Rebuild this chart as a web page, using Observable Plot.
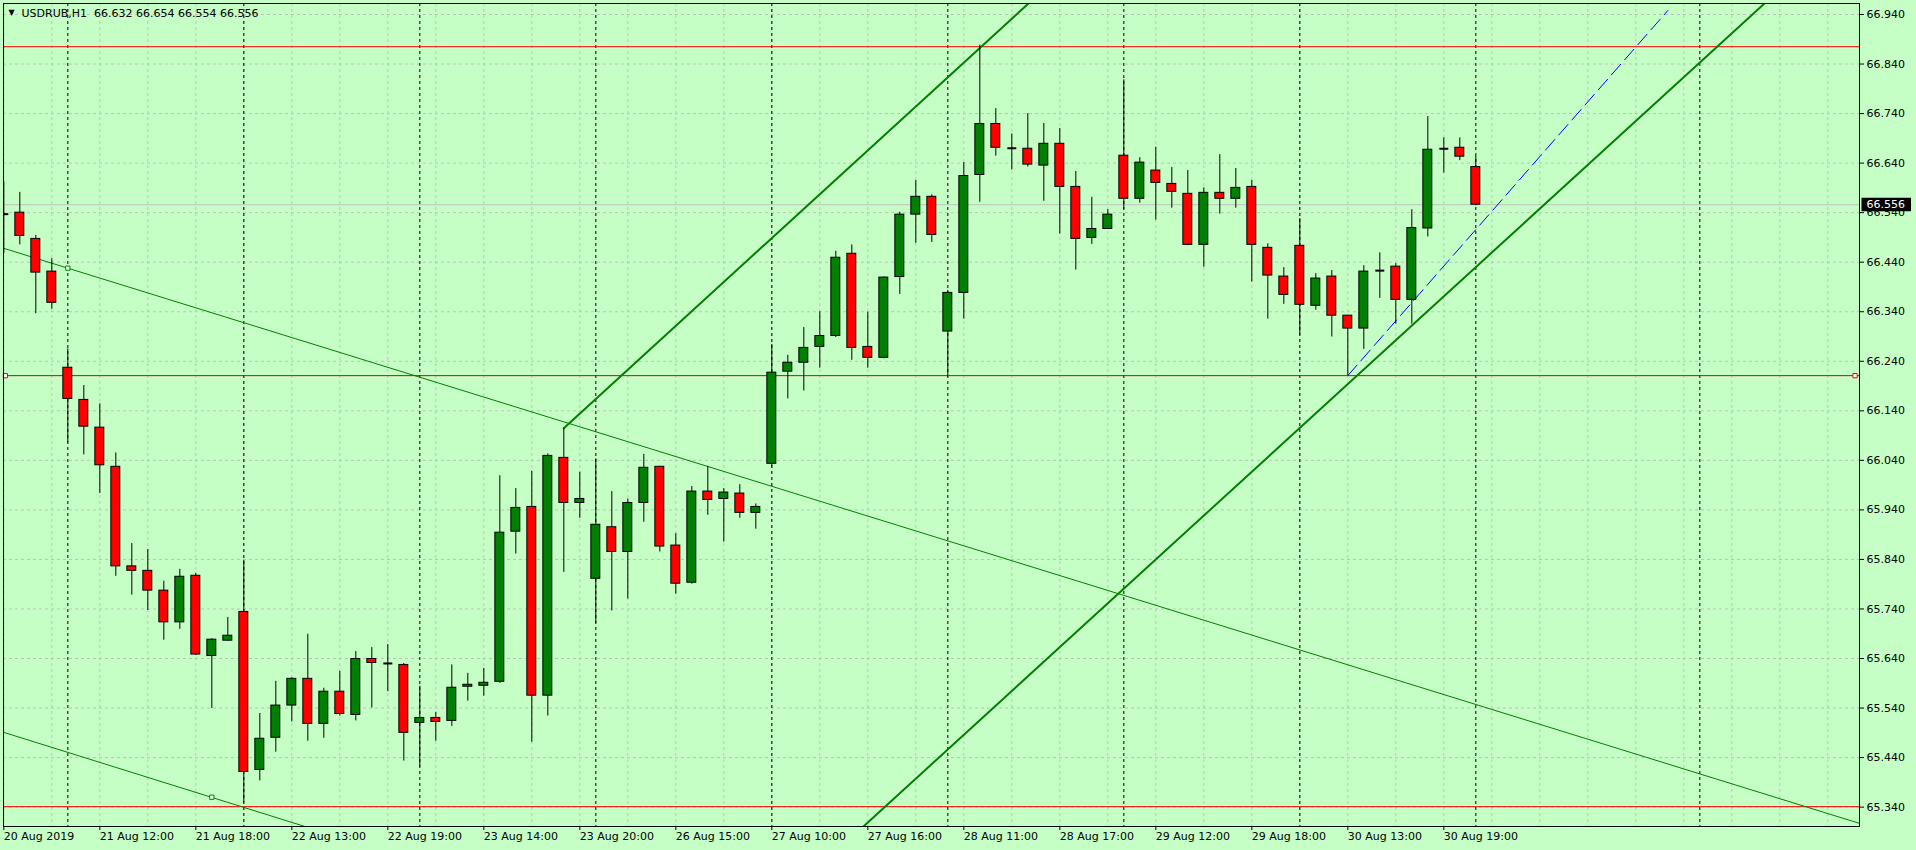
<!DOCTYPE html>
<html>
<head>
<meta charset="utf-8">
<script src="https://cdn.jsdelivr.net/npm/d3@7"></script>
<script src="https://cdn.jsdelivr.net/npm/@observablehq/plot@0.6"></script>
<style>
html, body { margin: 0; padding: 0; background: #c6ffc6; overflow: hidden; }
#chart svg { display: block; }
</style>
</head>
<body>
<div id="chart"></div>
<script>
// ---------- data (USDRUB, H1) ----------
const symbolName = "USDRUB,H1";
const lastOHLC = [66.632, 66.654, 66.554, 66.556];

const openPrices = [
  66.538,66.540,66.487,66.421,66.227,66.162,66.106,66.027,65.826,65.817,
  65.777,65.713,65.807,65.645,65.676,65.734,65.415,65.480,65.545,65.599,
  65.508,65.573,65.526,65.639,65.631,65.627,65.510,65.520,65.514,65.583,
  65.585,65.593,65.896,65.946,65.565,66.045,65.954,65.801,65.905,65.855,
  65.954,66.027,65.868,65.793,65.977,65.962,65.973,65.934,66.033,66.219,
  66.237,66.269,66.291,66.457,66.269,66.247,66.410,66.536,66.572,66.300,
  66.378,66.616,66.719,66.671,66.669,66.635,66.679,66.592,66.489,66.507,
  66.655,66.568,66.625,66.598,66.578,66.475,66.580,66.568,66.592,66.469,
  66.411,66.473,66.352,66.411,66.332,66.306,66.422,66.431,66.364,66.508,
  66.668,66.671,66.632
];
const highPrices = [
  66.603,66.581,66.494,66.447,66.265,66.191,66.154,66.055,65.872,65.860,
  65.796,65.820,65.812,65.680,65.723,65.838,65.529,65.594,65.601,65.689,
  65.580,65.614,65.654,65.662,65.668,65.630,65.584,65.531,65.627,65.610,
  65.620,66.009,65.983,66.018,66.053,66.105,66.016,66.043,65.977,65.962,
  66.052,66.028,65.892,65.987,66.028,65.983,65.991,65.952,66.274,66.252,
  66.308,66.340,66.462,66.475,66.339,66.410,66.541,66.605,66.576,66.383,
  66.641,66.878,66.750,66.699,66.740,66.720,66.710,66.623,66.571,66.546,
  66.808,66.651,66.672,66.631,66.625,66.590,66.657,66.629,66.605,66.477,
  66.429,66.528,66.417,66.423,66.333,66.433,66.459,66.437,66.546,66.734,
  66.691,66.691,66.654
];
const lowPrices = [
  66.457,66.475,66.336,66.345,66.075,66.051,65.973,65.806,65.768,65.737,
  65.677,65.699,65.646,65.539,65.675,65.349,65.393,65.451,65.512,65.473,
  65.479,65.524,65.514,65.540,65.573,65.433,65.421,65.473,65.503,65.554,
  65.564,65.590,65.851,65.471,65.524,65.814,65.923,65.711,65.736,65.760,
  65.915,65.855,65.770,65.790,65.929,65.875,65.923,65.901,66.026,66.164,
  66.180,66.226,66.288,66.242,66.226,66.245,66.375,66.478,66.480,66.208,
  66.325,66.561,66.654,66.626,66.632,66.563,66.497,66.424,66.476,66.506,
  66.546,66.559,66.525,66.549,66.474,66.430,66.537,66.549,66.400,66.325,
  66.355,66.293,66.343,66.289,66.211,66.264,66.367,66.315,66.315,66.491,
  66.620,66.645,66.554
];
const closePrices = [
  66.537,66.493,66.419,66.358,66.164,66.108,66.030,65.826,65.817,65.777,
  65.713,65.805,65.648,65.678,65.686,65.411,65.478,65.545,65.599,65.508,
  65.573,65.528,65.639,65.631,65.630,65.490,65.520,65.512,65.581,65.587,
  65.591,65.894,65.944,65.565,66.049,65.954,65.962,65.910,65.855,65.954,
  66.025,65.866,65.791,65.977,65.960,65.975,65.934,65.946,66.217,66.237,
  66.267,66.291,66.449,66.267,66.247,66.409,66.536,66.572,66.495,66.378,
  66.614,66.719,66.671,66.670,66.637,66.679,66.592,66.487,66.507,66.536,
  66.568,66.641,66.600,66.582,66.475,66.580,66.568,66.590,66.475,66.413,
  66.374,66.354,66.407,66.332,66.306,66.421,66.423,66.364,66.509,66.667,
  66.669,66.653,66.556
];

// time axis labels (bar index -> label)
const labelBars = [0,6,12,18,24,30,36,42,48,54,60,66,72,78,84,90];
const labelTexts = ["20 Aug 2019","21 Aug 12:00","21 Aug 18:00","22 Aug 13:00","22 Aug 19:00",
  "23 Aug 14:00","23 Aug 20:00","26 Aug 15:00","27 Aug 10:00","27 Aug 16:00","28 Aug 11:00",
  "28 Aug 17:00","29 Aug 12:00","29 Aug 18:00","30 Aug 13:00","30 Aug 19:00"];
// day separators (bar index)
const separatorBars = [4,15,26,37,48,59,70,81,92,106];
// price axis ticks
const priceTicks = [65.34,65.44,65.54,65.64,65.74,65.84,65.94,66.04,66.14,66.24,66.34,66.44,66.54,66.64,66.74,66.84,66.94];

// horizontal levels
const redLevels = [66.875, 65.341];
const supportLevel = 66.211;
const bidPrice = 66.556;

// drawn objects: end points (bar, price)
const downLine1 = [{bar: -1, price: 66.478}, {bar: 116, price: 65.307}];
const downLine2 = [{bar: -1, price: 65.501}, {bar: 20, price: 65.289}];
const channelLine1 = [{bar: 35, price: 66.105}, {bar: 66, price: 67.020}];
const channelLine2 = [{bar: 52, price: 65.250}, {bar: 112, price: 67.020}];
const blueLine = [{bar: 84, price: 66.211}, {bar: 104, price: 66.948}];
const greenAnchors = [{bar: 4, price: 66.428}, {bar: 13, price: 65.360}];
const supportHandles = [0.1, 115.7];

// ---------- build ----------
const candles = openPrices.map((o, i) => ({
  i, open: o, high: highPrices[i], low: lowPrices[i], close: closePrices[i]
}));
const dojis = candles.filter(d => Math.abs(d.open - d.close) < 0.0025);
const bodies = candles.filter(d => Math.abs(d.open - d.close) >= 0.0025);
const half = 0.28;
const gridBars = d3.range(0, 117, 3);
const labelMap = new Map(labelBars.map((b, k) => [b, labelTexts[k]]));
const titleText = symbolName + "\u00a0\u00a0" + lastOHLC.map(v => v.toFixed(3)).join(" ");

const chart = Plot.plot({
  width: 1916,
  height: 850,
  marginLeft: 3,
  marginRight: 57,
  marginTop: 3,
  marginBottom: 24,
  style: {background: "#c6ffc6", fontFamily: "DejaVu Sans", fontSize: "11px", color: "black", overflow: "visible"},
  x: {domain: [-0.02, 115.98], axis: null},
  y: {domain: [65.3009, 66.9622], axis: null},
  marks: [
    Plot.gridX(gridBars, {stroke: "#c0c0c0", strokeOpacity: 1, strokeDasharray: "3,3"}),
    Plot.gridY(priceTicks, {stroke: "#c0c0c0", strokeOpacity: 1, strokeDasharray: "3,3"}),
    Plot.ruleX(separatorBars, {stroke: "black", strokeDasharray: "3,3"}),
    Plot.ruleY([bidPrice], {stroke: "#c0c0c0"}),
    Plot.ruleY(redLevels, {stroke: "#ff0000"}),
    Plot.ruleY([supportLevel], {stroke: "#dd0000"}),
    Plot.line(downLine1, {x: "bar", y: "price", stroke: "#008000", strokeWidth: 1, clip: true}),
    Plot.line(downLine2, {x: "bar", y: "price", stroke: "#008000", strokeWidth: 1, clip: true}),
    Plot.line(channelLine1, {x: "bar", y: "price", stroke: "#008000", strokeWidth: 2, clip: true}),
    Plot.line(channelLine2, {x: "bar", y: "price", stroke: "#008000", strokeWidth: 2, clip: true}),
    Plot.line(blueLine, {x: "bar", y: "price", stroke: "#0000ff", strokeWidth: 1, strokeDasharray: "14,6", clip: true}),
    // candles
    Plot.ruleX(candles, {x: "i", y1: "low", y2: "high", stroke: "black", clip: true}),
    Plot.rect(bodies, {
      x1: d => d.i - half, x2: d => d.i + half, y1: "open", y2: "close",
      fill: d => d.close >= d.open ? "#008000" : "#ff0000", stroke: "black", strokeWidth: 1, clip: true
    }),
    Plot.link(dojis, {x1: d => d.i - half, x2: d => d.i + half, y1: "close", y2: "close", stroke: "black", strokeWidth: 2, clip: true}),
    // anchors / handles
    Plot.dot(greenAnchors, {x: "bar", y: "price", symbol: "square", r: 2.4, stroke: "#008000", fill: "white", strokeWidth: 1}),
    Plot.dot(supportHandles, {x: d => d, y: () => supportLevel, symbol: "square", r: 2.4, stroke: "#ff0000", fill: "white", strokeWidth: 1}),
    Plot.frame({stroke: "black"}),
    // axes
    Plot.axisY(priceTicks, {anchor: "right", tickSize: 4, tickPadding: 3, tickFormat: d => d.toFixed(3), fontSize: 11, fill: "black", stroke: "black"}),
    Plot.axisX(labelBars, {anchor: "bottom", tickSize: 4, tickPadding: 2, tickFormat: d => labelMap.get(d), textAnchor: "start", dx: 0, fontSize: 11, fill: "black", stroke: "black"}),
    // bid label
    Plot.text([bidPrice], {y: d => d, frameAnchor: "right", text: d => d.toFixed(3), textAnchor: "start", dx: 7, fill: "white", fontSize: 11, className: "bidlabel"}),
    // title
    Plot.text(["\u25BC"], {frameAnchor: "top-left", dx: 8, dy: 9, textAnchor: "middle", lineAnchor: "middle", fontSize: 8, fill: "black"}),
    Plot.text([titleText], {frameAnchor: "top-left", dx: 18, dy: 10, textAnchor: "start", lineAnchor: "middle", fontSize: 11, fill: "black"})
  ]
});

document.getElementById("chart").appendChild(chart);

// black box behind the bid price label
const bidText = chart.querySelector(".bidlabel text");
if (bidText) {
  const bb = bidText.getBBox();
  const rect = document.createElementNS("http://www.w3.org/2000/svg", "rect");
  rect.setAttribute("x", bb.x - 5);
  rect.setAttribute("y", bb.y - 0.5);
  rect.setAttribute("width", bb.width + 11);
  rect.setAttribute("height", bb.height + 0.5);
  rect.setAttribute("fill", "black");
  const tr = bidText.getAttribute("transform");
  if (tr) rect.setAttribute("transform", tr);
  bidText.parentNode.insertBefore(rect, bidText);
}
</script>
</body>
</html>
